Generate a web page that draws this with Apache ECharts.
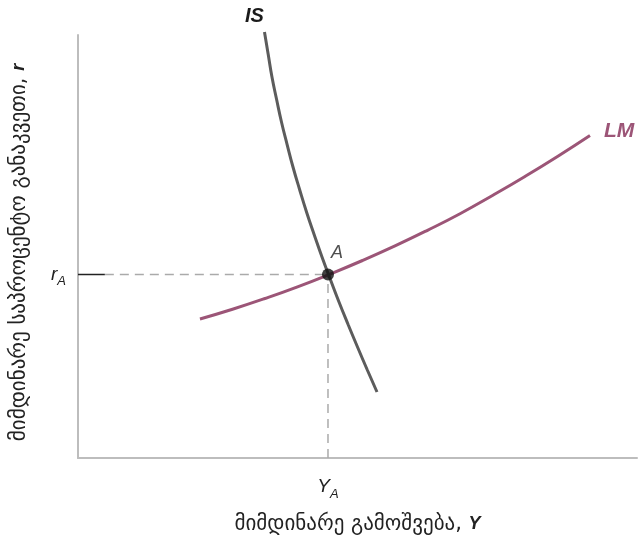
<!DOCTYPE html>
<html>
<head>
<meta charset="utf-8">
<script src="https://cdn.jsdelivr.net/npm/echarts@6/dist/echarts.min.js"></script>
<style>
  html, body { margin: 0; padding: 0; background: #fff; }
  #chart { width: 638px; height: 543px; }
</style>
</head>
<body>
<div id="chart"></div>
<script>
// IS მრუდი (ქვემოდან ზემოთ, რომ endLabel ზემოთ დაჯდეს)
const isX = [53.49, 51.72, 50.00, 48.32, 46.69, 45.15, 43.65, 42.24, 40.88,
  39.64, 38.46, 37.41, 36.40, 35.53, 34.70, 34.03, 33.36];
const isY = [15.60, 20.92, 26.24, 31.56, 36.88, 42.20, 47.52, 52.84, 58.16,
  63.48, 68.79, 74.11, 79.43, 84.75, 90.07, 95.39, 100.71];
// LM მრუდი
const lmX = [21.82, 27.64, 33.45, 39.27, 45.08, 50.89, 56.71, 62.52, 68.34,
  74.15, 79.96, 85.78, 91.59];
const lmY = [32.86, 35.17, 37.71, 40.47, 43.48, 46.69, 50.14, 53.83, 57.75,
  62.06, 66.55, 71.28, 76.24];
// წონასწორობის წერტილი A
const pointA = [44.72, 43.4];
const tickEnd = 4.8;

const isCurve = isX.map((x, i) => [x, isY[i]]);
const lmCurve = lmX.map((x, i) => [x, lmY[i]]);

const grey = '#bdbdbd';
const isColor = '#5c5c5c';
const lmColor = '#9c5577';
const geoFont = 'DejaVu Sans';

const chart = echarts.init(document.getElementById('chart'));
chart.setOption({
  animation: false,
  grid: { left: 78, right: 1, top: 35, bottom: 85 },
  xAxis: {
    type: 'value', min: 0, max: 100,
    splitLine: { show: false },
    axisTick: { show: false },
    axisLine: { lineStyle: { color: grey, width: 2 } },
    axisLabel: {
      customValues: [pointA[0]],
      margin: 15,
      formatter: () => '{v|Y}{s|A}',
      rich: {
        v: { fontFamily: 'Liberation Sans', fontStyle: 'italic', fontSize: 19, color: '#222' },
        s: { fontFamily: 'Liberation Sans', fontStyle: 'italic', fontSize: 13, color: '#222', padding: [15, 0, 0, 0] }
      }
    },
    name: '{t|მიმდინარე გამოშვება, }{v|Y}',
    nameLocation: 'middle',
    nameGap: 56,
    nameTextStyle: {
      rich: {
        t: { fontFamily: geoFont, fontSize: 21, color: '#222' },
        v: { fontFamily: 'Liberation Sans', fontStyle: 'italic', fontWeight: 'bold', fontSize: 18, color: '#222' }
      }
    }
  },
  yAxis: {
    type: 'value', min: 0, max: 100,
    splitLine: { show: false },
    axisTick: { show: false },
    axisLine: { lineStyle: { color: grey, width: 2 } },
    axisLabel: {
      customValues: [pointA[1]],
      margin: 12,
      formatter: () => '{v|r}{s|A}',
      rich: {
        v: { fontFamily: 'Liberation Sans', fontStyle: 'italic', fontSize: 19, color: '#222' },
        s: { fontFamily: 'Liberation Sans', fontStyle: 'italic', fontSize: 13, color: '#222', padding: [14, 0, 0, 0] }
      }
    },
    name: '{t|მიმდინარე საპროცენტო განაკვეთი, }{v|r}',
    nameLocation: 'middle',
    nameRotate: 90,
    nameGap: 48,
    nameTextStyle: {
      padding: [0, 12, 0, 0],
      rich: {
        t: { fontFamily: geoFont, fontSize: 21, color: '#222' },
        v: { fontFamily: 'Liberation Sans', fontStyle: 'italic', fontWeight: 'bold', fontSize: 18, color: '#222' }
      }
    }
  },
  series: [
    {
      type: 'line', data: [[tickEnd, pointA[1]], pointA],
      symbol: 'none', silent: true, z: 1,
      lineStyle: { color: '#aaa', width: 1.5, type: [9, 6] }
    },
    {
      type: 'line', data: [[pointA[0], 0], pointA],
      symbol: 'none', silent: true, z: 1,
      lineStyle: { color: '#aaa', width: 1.5, type: [9, 6] }
    },
    {
      type: 'line', data: [[0, pointA[1]], [tickEnd, pointA[1]]],
      symbol: 'none', silent: true, z: 1,
      lineStyle: { color: '#222', width: 1.5 }
    },
    {
      name: 'IS', type: 'line', data: isCurve, smooth: true, clip: false,
      symbol: 'none', z: 3,
      lineStyle: { color: isColor, width: 3 },
      endLabel: {
        show: true, formatter: 'IS', align: 'center', offset: [-18, -16],
        fontFamily: 'Liberation Sans', fontStyle: 'italic', fontWeight: 'bold', fontSize: 20, color: '#1a1a1a'
      }
    },
    {
      name: 'LM', type: 'line', data: lmCurve, smooth: true, clip: false,
      symbol: 'none', z: 2,
      lineStyle: { color: lmColor, width: 3 },
      endLabel: {
        show: true, formatter: 'LM', offset: [6, -4],
        fontFamily: 'Liberation Sans', fontStyle: 'italic', fontWeight: 'bold', fontSize: 21, color: lmColor
      }
    },
    {
      type: 'scatter', data: [pointA], symbolSize: 12, z: 5,
      itemStyle: { color: '#111' },
      label: {
        show: true, formatter: 'A', position: 'top', offset: [9, -1],
        fontFamily: 'Liberation Sans', fontStyle: 'italic', fontSize: 18, color: '#222'
      }
    }
  ]
});
</script>
</body>
</html>
